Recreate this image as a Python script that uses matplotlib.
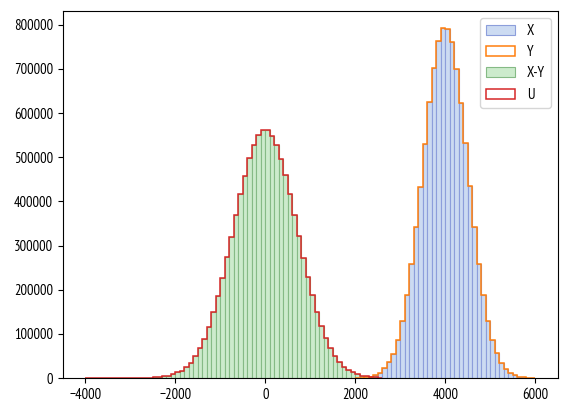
import numpy as np
import matplotlib
matplotlib.use("Agg")
import matplotlib.pyplot as plt

plt.rcParams['font.family'] = ['PT Sans Narrow', 'Noto Sans CJK SC', 'DejaVu Sans']
plt.rcParams['font.size'] = 10.5

# bin edges (width 100)
xy_edges = np.arange(-4000, 2601, 100)
x_edges = np.arange(2000, 6001, 100)

# counts per bin
x_counts = [400, 800, 1700, 3400,
            6500, 12000, 22000, 36000, 54000, 86000, 129000, 188000, 258000, 343000,
            432000, 530000, 624000, 702000, 762000, 792000,
            791000, 761000, 700000, 622000, 531000, 434000, 341000, 259000, 187000, 130000,
            87000, 56000, 35000, 21000, 12000, 6400, 3400, 1700, 800, 400]
y_counts = list(x_counts)  # Y outline sits right on top of X

xy_counts = [0, 0, 0, 0, 0, 0, 0,
             10, 20, 40, 80, 150, 280, 500,
             850, 1400, 2250, 3550, 5500, 8400,
             12600, 17000, 24000, 35000, 49000, 68000, 89000,
             116000, 149000, 186000, 227000, 273000, 320000, 368000,
             416000, 458000, 497000, 528000, 550000, 561000,
             561000, 549000, 527000, 496000, 459000, 417000, 369000, 321000, 272000, 228000,
             187000, 150000, 117000, 90000, 68000, 50000, 36000, 25000, 18000, 12500,
             8300, 5400, 3500, 2200, 1400, 800]
u_counts = list(xy_counts)  # U outline matches X-Y

fig = plt.figure(figsize=(5.67, 4.12), dpi=100)
ax = fig.add_axes([0.111, 0.0825, 0.873, 0.8915])

ax.hist(x_edges[:-1], bins=x_edges, weights=x_counts, histtype='bar',
        facecolor=(0.80, 0.86, 0.95), edgecolor=(0.55, 0.62, 0.86), linewidth=0.8, label='X')
ax.hist(x_edges[:-1], bins=x_edges, weights=y_counts, histtype='step',
        color='#ff7f0e', linewidth=1.1, label='Y')
ax.hist(xy_edges[:-1], bins=xy_edges, weights=xy_counts, histtype='bar',
        facecolor=(0.80, 0.92, 0.80), edgecolor=(0.52, 0.73, 0.52), linewidth=0.8, label='X-Y')
ax.hist(xy_edges[:-1], bins=xy_edges, weights=u_counts, histtype='step',
        color='#d62728', linewidth=1.1, label='U')

ax.set_xticks([-4000, -2000, 0, 2000, 4000, 6000])
ax.set_yticks(np.arange(0, 800001, 100000))
ax.legend(loc='upper right')

fig.savefig('out.png', dpi=100)
